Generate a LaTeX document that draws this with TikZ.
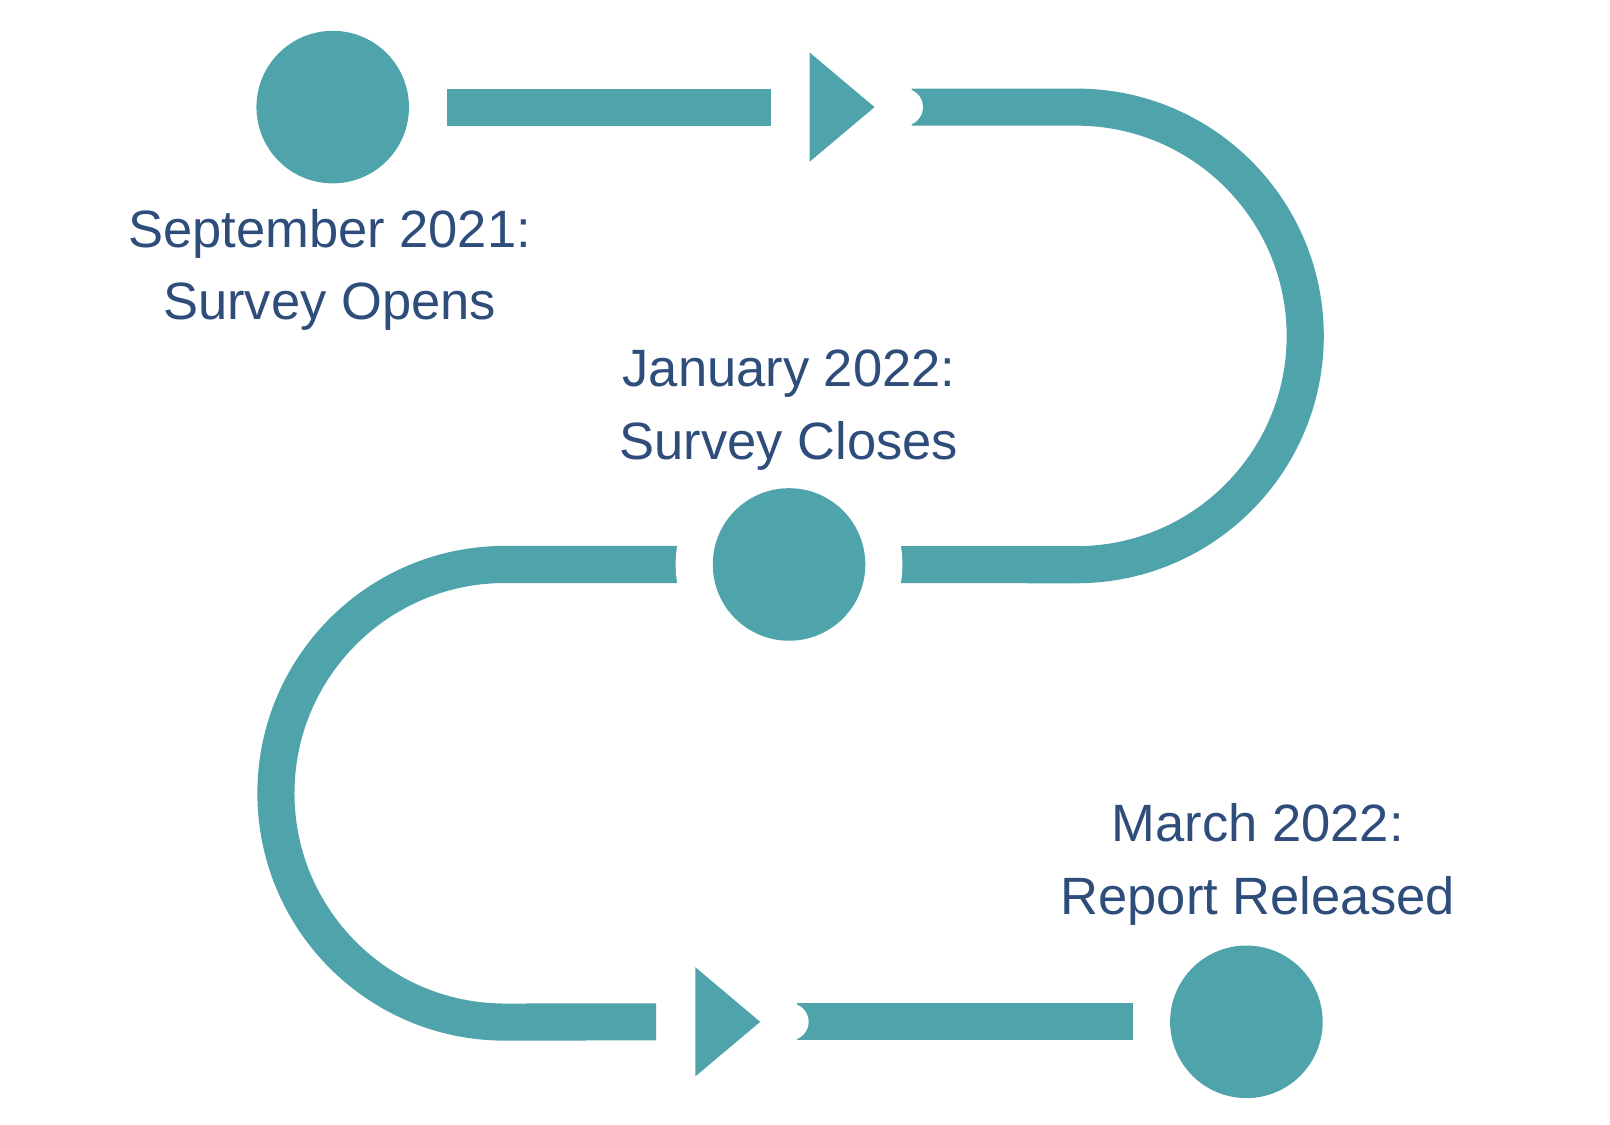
\documentclass[tikz,border=0pt]{standalone}
\usepackage{fontspec}
\setmainfont{Liberation Sans}
\definecolor{teal}{HTML}{4FA3AB}
\definecolor{ink}{HTML}{2E4D7B}
\tikzset{
    milestone/.style={circle, fill=teal, minimum size=1.48cm, inner sep=0pt},
    road/.style={draw=teal, line width=0.36cm},
    caption/.style={text=ink, font=\fontsize{14.5}{20}\selectfont, align=center},
}
\begin{document}
\begin{tikzpicture}[x=0.01cm, y=-0.01cm]
    \useasboundingbox (0,0) rectangle (1563,1092);

    % upper track
    \draw[road] (434,104) -- (748,104);
    \fill[teal] (786,51) -- (849,104) -- (786,157) -- cycle;
    \draw[road] (885,104) -- (1045,104) arc[start angle=90, end angle=-90, radius=2.22cm]
        -- (700,548);
    \fill[white] (878,104) circle[radius=0.18cm];

    % lower track
    \draw[road] (820,548) -- (490,548) arc[start angle=90, end angle=270, radius=2.22cm]
        -- (637,992);
    \fill[white] (766,548) circle[radius=1.1cm];
    \fill[teal] (675,939) -- (738,992) -- (675,1045) -- cycle;
    \draw[road] (774,992) -- (1100,992);
    \fill[white] (767,992) circle[radius=0.18cm];

    % milestones
    \node[milestone] (opens) at (323,104) {};
    \node[milestone] (closes) at (766,548) {};
    \node[milestone] (report) at (1210,992) {};

    \node[caption] (opensT) at (320,262) {September 2021:\\Survey Opens};
    \node[caption] (closesT) at (766,398) {January 2022:\\Survey Closes};
    \node[caption] (reportT) at (1221,839) {March 2022:\\Report Released};
\end{tikzpicture}
\end{document}
